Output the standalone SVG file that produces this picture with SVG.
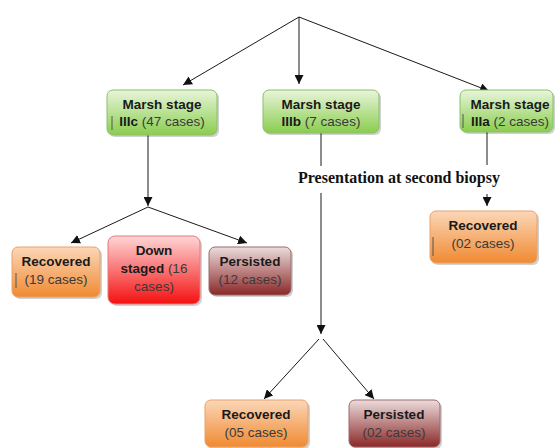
<svg xmlns="http://www.w3.org/2000/svg" width="557" height="448" viewBox="0 0 557 448">
<defs>
<linearGradient id="gGreen" x1="0" y1="0" x2="0" y2="1"><stop offset="0" stop-color="#e8f5da"/><stop offset="1" stop-color="#8acd4e"/></linearGradient>
<linearGradient id="gOrange" x1="0" y1="0" x2="0" y2="1"><stop offset="0" stop-color="#fbd7b8"/><stop offset="1" stop-color="#f08a32"/></linearGradient>
<linearGradient id="gRed" x1="0" y1="0" x2="0" y2="1"><stop offset="0" stop-color="#ffd6d6"/><stop offset="1" stop-color="#f41010"/></linearGradient>
<linearGradient id="gMaroon" x1="0" y1="0" x2="0" y2="1"><stop offset="0" stop-color="#ecdcdc"/><stop offset="1" stop-color="#8a2828"/></linearGradient>
<marker id="arr" viewBox="0 0 10 10" refX="10" refY="5" markerWidth="9" markerHeight="9" markerUnits="userSpaceOnUse" orient="auto"><path d="M0,0 L10,5 L0,10 Z" fill="#111"/></marker>
</defs>
<style>
.sh{fill:#000;opacity:0.18}
.green{fill:url(#gGreen);stroke:#8cbf6a;stroke-width:1}
.orange{fill:url(#gOrange);stroke:#e9a06a;stroke-width:1}
.red{fill:url(#gRed);stroke:#e47a7a;stroke-width:1}
.maroon{fill:url(#gMaroon);stroke:#9a6a6a;stroke-width:1}
text{font-family:"Liberation Sans",Arial,sans-serif;font-size:13.5px;text-anchor:middle;fill:#1a1a1a}
.b{font-weight:bold}
.n{fill:#3a3a3a}
.serif{font-family:"Liberation Serif","Times New Roman",serif;font-weight:bold;font-size:16px;text-anchor:start;fill:#111}
.ln{stroke:#1a1a1a;stroke-width:1;fill:none}
.tick{stroke:#555;stroke-width:1}
</style>
<g id="connectors">
<line class="ln" x1="299" y1="17" x2="183" y2="85" marker-end="url(#arr)"/>
<line class="ln" x1="299" y1="17" x2="299" y2="84" marker-end="url(#arr)"/>
<line class="ln" x1="299" y1="17" x2="489" y2="91" marker-end="url(#arr)"/>
<line class="ln" x1="148" y1="135" x2="148" y2="206" marker-end="url(#arr)"/>
<line class="ln" x1="148" y1="207" x2="71" y2="243" marker-end="url(#arr)"/>
<line class="ln" x1="148" y1="207" x2="247" y2="243" marker-end="url(#arr)"/>
<line class="ln" x1="321" y1="133" x2="321" y2="166"/>
<line class="ln" x1="487" y1="132" x2="487" y2="165"/>
<line class="ln" x1="487" y1="194" x2="487" y2="206" marker-end="url(#arr)"/>
<line class="ln" x1="321" y1="193" x2="321" y2="334" marker-end="url(#arr)"/>
<line class="ln" x1="319" y1="339" x2="264" y2="399" marker-end="url(#arr)"/>
<line class="ln" x1="323" y1="339" x2="374" y2="399" marker-end="url(#arr)"/>
</g>
<text class="serif" x="298" y="183">Presentation at second biopsy</text>
<g id="n_IIIc">
<rect class="sh" x="109" y="92" width="110" height="45" rx="6"/>
<rect class="green" x="107" y="90" width="110" height="45" rx="6"/>
<text x="162" y="109" class="b">Marsh stage</text>
<text x="162" y="126"><tspan class="b">IIIc</tspan><tspan class="n"> (47 cases)</tspan></text>
<line class="tick" x1="112" y1="116" x2="112" y2="130"/>
</g>
<g id="n_IIIb">
<rect class="sh" x="265" y="92" width="116" height="43" rx="6"/>
<rect class="green" x="263" y="90" width="116" height="43" rx="6"/>
<text x="321" y="109" class="b">Marsh stage</text>
<text x="321" y="126"><tspan class="b">IIIb</tspan><tspan class="n"> (7 cases)</tspan></text>
</g>
<g id="n_IIIa">
<rect class="sh" x="462" y="92" width="93" height="42" rx="6"/>
<rect class="green" x="460" y="90" width="93" height="42" rx="6"/>
<text x="510" y="109" class="b">Marsh stage</text>
<text x="510" y="126"><tspan class="b">IIIa</tspan><tspan class="n"> (2 cases)</tspan></text>
<line class="tick" x1="463" y1="114" x2="463" y2="128"/>
</g>
<g id="n_rec1">
<rect class="sh" x="14" y="249" width="88" height="50" rx="6"/>
<rect class="orange" x="12" y="247" width="88" height="50" rx="6"/>
<text x="56" y="266" class="b">Recovered</text>
<text x="56" y="284" class="n">(19 cases)</text>
<line class="tick" x1="16" y1="273" x2="16" y2="288"/>
</g>
<g id="n_down">
<rect class="sh" x="110" y="238" width="92" height="68" rx="7"/>
<rect class="red" x="108" y="236" width="92" height="68" rx="7"/>
<text x="154" y="255" class="b">Down</text>
<text x="154" y="273"><tspan class="b">staged</tspan><tspan class="n"> (16</tspan></text>
<text x="154" y="291" class="n">cases)</text>
</g>
<g id="n_pers1">
<rect class="sh" x="211" y="249" width="82" height="48" rx="6"/>
<rect class="maroon" x="209" y="247" width="82" height="48" rx="6"/>
<text x="250" y="266" class="b">Persisted</text>
<text x="250" y="284" class="n">(12 cases)</text>
</g>
<g id="n_rec3">
<rect class="sh" x="432" y="213" width="107" height="52" rx="6"/>
<rect class="orange" x="430" y="211" width="107" height="52" rx="6"/>
<text x="483" y="230" class="b">Recovered</text>
<text x="483" y="248" class="n">(02 cases)</text>
<line class="tick" x1="433" y1="237" x2="433" y2="256"/>
</g>
<g id="n_rec2">
<rect class="sh" x="207" y="402" width="103" height="47" rx="6"/>
<rect class="orange" x="205" y="400" width="103" height="47" rx="6"/>
<text x="256" y="419" class="b">Recovered</text>
<text x="256" y="437" class="n">(05 cases)</text>
</g>
<g id="n_pers2">
<rect class="sh" x="351" y="402" width="91" height="47" rx="6"/>
<rect class="maroon" x="349" y="400" width="91" height="47" rx="6"/>
<text x="394" y="419" class="b">Persisted</text>
<text x="394" y="437" class="n">(02 cases)</text>
</g>
</svg>
